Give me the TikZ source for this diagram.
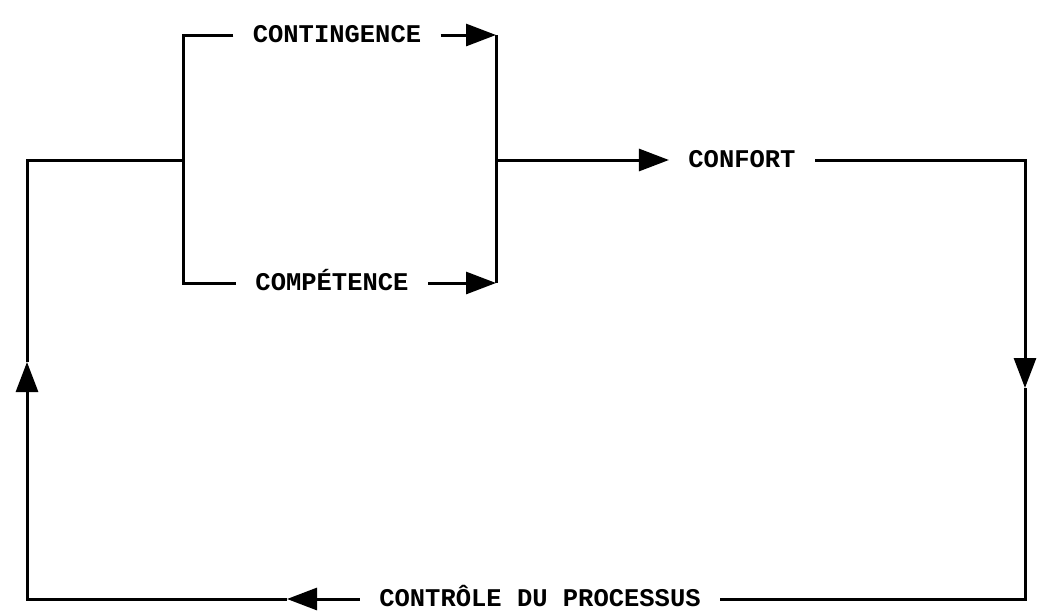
\documentclass[tikz,border=0pt]{standalone}
\usepackage{fontspec}
\setmonofont{Liberation Mono}
\usetikzlibrary{arrows.meta}

\begin{document}
\begin{tikzpicture}[x=1pt,y=-1pt,line width=3pt,
  tag/.style={font=\ttfamily\bfseries\fontsize{25.5}{30}\selectfont,inner xsep=18pt,inner ysep=0pt,text height=14.5pt,text depth=0pt},
  tip/.style={-{Triangle[length=30pt,width=22pt]}}]
\useasboundingbox (0,0) rectangle (1037,614);
\coordinate (forkT) at (183,35); \coordinate (forkM) at (183,160); \coordinate (forkB) at (183,283);
\coordinate (joinT) at (496,35); \coordinate (joinM) at (496,160); \coordinate (joinB) at (496,283);
\coordinate (leftT) at (27,160); \coordinate (leftA) at (27,362); \coordinate (leftB) at (27,599);
\coordinate (rightT) at (1025,160); \coordinate (rightA) at (1025,388); \coordinate (rightB) at (1025,599);
\coordinate (botA) at (287,599);
\node (contingence) at (337,35) [tag] {CONTINGENCE};
\node (competence) at (332,283) [tag] {COMPÉTENCE};
\node (confort) at (742,160) [tag] {CONFORT};
\node (controle) at (540,599) [tag] {CONTRÔLE DU PROCESSUS};
\draw (contingence.west) -- (forkT) -- (forkB) -- (competence.west);
\draw[tip] (contingence.east) -- (joinT);
\draw[tip] (competence.east) -- (joinB);
\draw (joinT) -- (joinB);
\draw[tip] (joinM) -- (confort.west);
\draw[tip] (confort.east) -- (rightT) -- (rightA);
\draw (rightA) -- (rightB) -- (controle.east);
\draw[tip] (controle.west) -- (botA);
\draw[tip] (botA) -- (leftB) -- (leftA);
\draw (leftA) -- (leftT) -- (forkM);
\end{tikzpicture}
\end{document}
